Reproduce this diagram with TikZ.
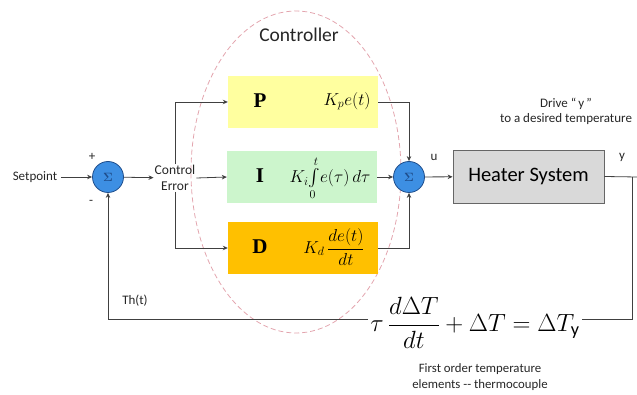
\documentclass[tikz,border=0pt]{standalone}
\usepackage{amsmath}
\usepackage{fontspec}
\setmainfont{Carlito}
\newfontfamily\timesf{Liberation Serif}
\usetikzlibrary{arrows.meta}
\definecolor{lin}{HTML}{404040}
\definecolor{sumfill}{HTML}{3D8FE3}
\definecolor{sumdraw}{HTML}{1F4E8C}
\definecolor{pcol}{HTML}{FFFF9F}
\definecolor{icol}{HTML}{CCF5CC}
\definecolor{dcol}{HTML}{FFC000}
\definecolor{hcol}{HTML}{D9D9D9}
\definecolor{ellc}{HTML}{E3A5AE}
\tikzset{
  conn/.style={draw=lin, line width=0.8pt},
  arr/.style={conn, -{Stealth[length=5pt,width=4.5pt]}},
  sumnode/.style={circle, fill=sumfill, draw=sumdraw, line width=0.8pt, minimum size=31pt, inner sep=0pt, text=sumdraw, font=\large\bfseries},
  blk/.style={minimum width=150pt, minimum height=52pt, inner sep=0pt},
  small/.style={font=\fontsize{13}{15}\selectfont, text=black!85},
  pid/.style={font=\timesf\bfseries\fontsize{21}{23}\selectfont},
  fml/.style={font=\fontsize{17}{19}\selectfont, inner sep=1pt}
}
\begin{document}
\begin{tikzpicture}[x=1pt,y=-1pt]
\useasboundingbox (0,0) rectangle (637,395);
% controller ellipse
\draw[ellc, line width=0.8pt, dash pattern=on 5pt off 3pt] (296,172) ellipse [x radius=105pt, y radius=161pt];
\node[small, font=\fontsize{19.5}{22}\selectfont] (ctl) at (299,35) {Controller};
% summing junctions
\node[sumnode] (s1) at (108,177) {$\boldsymbol\Sigma$};
\node[sumnode] (s2) at (409,177) {$\boldsymbol\Sigma$};
\node[small] (sp) at (35,177) {Setpoint};
\node[small] (plus) at (92,157) {+};
\node[small] (minus) at (91,202) {-};
\node[small, align=center, inner sep=1pt, font=\fontsize{13.5}{16}\selectfont] (ce) at (175,178) {Control\\Error};
% PID blocks
\node[blk, fill=pcol] (P) at (303,102) {};
\node[blk, fill=icol] (I) at (302,177) {};
\node[blk, fill=dcol] (D) at (303,248) {};
\node[pid] (Pl) at (260,101) {P};
\node[pid] (Il) at (260,176) {I};
\node[pid] (Dl) at (260,247) {D};
\node[fml] (Pf) at (347,101) {$K_{p}e(t)$};
\node[fml] (If) at (330,178) {$K_{i}\!\int\limits_{0}^{t}\! e(\tau)\,d\tau$};
\node[fml] (Df) at (334,247) {$K_{d}\,\dfrac{de(t)}{dt}$};
% heater
\node[blk, fill=hcol, draw=gray!80!black, line width=0.8pt, minimum width=151pt, minimum height=53pt, font=\fontsize{20.5}{23}\selectfont] (H) at (528.5,176.5) {Heater System};
\node[small, align=center, font=\fontsize{13}{15}\selectfont] (drv) at (566,111) {Drive ``\,y\,''\\to a desired temperature};
\node[small] (ul) at (434,157) {u};
\node[small] (yl) at (622,157) {y};
% equation
\node[font=\fontsize{26}{30}\selectfont, inner sep=2pt] (eq) at (475,323) {$\tau\,\dfrac{d\Delta T}{dt} + \Delta T = \Delta T_{\text{y}}$};
\node[small, align=center, font=\fontsize{12.8}{16}\selectfont] (fo) at (480,377) {First order temperature\\elements -{}- thermocouple};
\node[small] (th) at (135,301) {Th(t)};
% coordinates
\coordinate (yo) at (637,177);
\coordinate (fbr) at (632,319);
\coordinate (fbt) at (632,177);
\coordinate (fbl) at (108,319);
% connectors
\draw[arr] (sp) -- (s1);
\draw[arr] (s1) -- (ce);
\draw[arr] (ce.north) |- (P.west);
\draw[arr] (ce.east) -- (I.west);
\draw[arr] (ce.south) |- (D.west);
\draw[arr] (P.east) -| (s2.north);
\draw[arr] (I.east) -- (s2.west);
\draw[arr] (D.east) -| (s2.south);
\draw[arr] (s2) -- (H);
\draw[conn] (H.east) -- (yo);
\draw[conn] (fbt) -- (fbr) -- (fbr -| eq.east);
\draw[arr] (fbl -| eq.west) -- (fbl) -- (s1.south);
\end{tikzpicture}
\end{document}
